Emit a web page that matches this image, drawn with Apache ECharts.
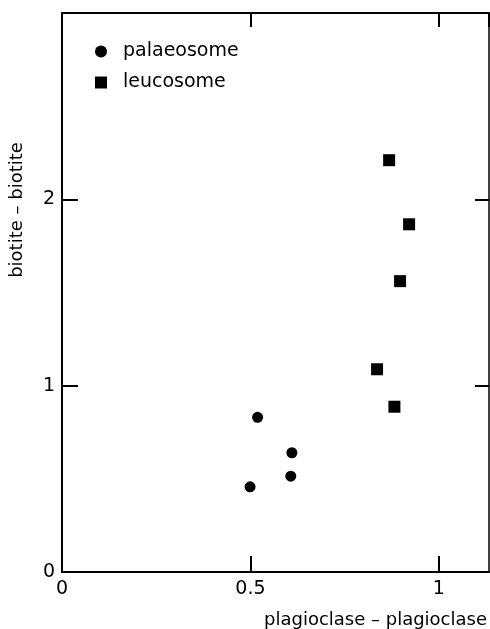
<!DOCTYPE html>
<html>
<head>
<meta charset="utf-8">
<script src="https://cdn.jsdelivr.net/npm/echarts@6/dist/echarts.min.js"></script>
<style>
  html, body { margin: 0; padding: 0; background: #fff; }
  #chart { width: 490px; height: 629px; }
</style>
</head>
<body>
<div id="chart"></div>
<script>
// palaeosome points [plagioclase, biotite]
var palaeosome = [[0.519, 0.83], [0.61, 0.64], [0.607, 0.514], [0.499, 0.457]];
// leucosome points
var leucosome = [[0.868, 2.21], [0.921, 1.866], [0.897, 1.561], [0.836, 1.088], [0.882, 0.887]];
var xTicks = [0, 0.5, 1];
var yTicks = [0, 1, 2];
var xName = "plagioclase \u2013 plagioclase";
var yName = "biotite \u2013 biotite";

var font = "DejaVu Sans";
var chart = echarts.init(document.getElementById("chart"));

function tick(len) {
    return { show: true, inside: true, length: len, lineStyle: { color: "#000", width: 2 } };
}
function line(w) {
    return { show: true, onZero: false, lineStyle: { color: "#000", width: w } };
}

chart.setOption({
    animation: false,
    grid: { left: 62, right: 1, top: 13, bottom: 57, containLabel: false },
    legend: {
        orient: "vertical",
        left: 90,
        top: 37,
        itemWidth: 12,
        itemHeight: 12,
        itemGap: 12,
        textStyle: { fontFamily: font, fontSize: 19, color: "#000", padding: [0, 0, 0, 11] },
        data: [
            { name: "palaeosome", icon: "circle" },
            { name: "leucosome", icon: "rect" }
        ]
    },
    xAxis: [
        {
            type: "value", min: 0, max: 1.133, interval: 0.5, position: "bottom",
            axisLine: line(2),
            axisTick: tick(16),
            splitLine: { show: false },
            axisLabel: {
                color: "#000", fontFamily: font, fontSize: 19, margin: 8, showMaxLabel: false,
                formatter: function (v) { return xTicks.indexOf(v) >= 0 ? String(v) : ""; }
            }
        },
        {
            type: "value", min: 0, max: 1.133, interval: 0.5, position: "top",
            axisLine: line(2),
            axisTick: tick(14),
            splitLine: { show: false },
            axisLabel: { show: false }
        }
    ],
    yAxis: [
        {
            type: "value", min: 0, max: 3, interval: 1, position: "left",
            axisLine: line(2),
            axisTick: tick(16),
            splitLine: { show: false },
            axisLabel: {
                color: "#000", fontFamily: font, fontSize: 19, margin: 7, showMaxLabel: false,
                formatter: function (v) { return yTicks.indexOf(v) >= 0 ? String(v) : ""; }
            }
        },
        {
            type: "value", min: 0, max: 3, interval: 1, position: "right",
            axisLine: line(1.5),
            axisTick: tick(14),
            splitLine: { show: false },
            axisLabel: { show: false }
        }
    ],
    graphic: [
        {
            type: "text", x: 487, y: 620,
            style: { text: xName, fill: "#000", font: "18px " + font, textAlign: "right", textVerticalAlign: "middle" }
        },
        {
            type: "text", x: 17, y: 210, rotation: Math.PI / 2,
            style: { text: yName, fill: "#000", font: "18px " + font, textAlign: "center", textVerticalAlign: "middle" }
        }
    ],
    series: [
        {
            name: "palaeosome", type: "scatter", data: palaeosome,
            symbol: "circle", symbolSize: 11, xAxisIndex: 0, yAxisIndex: 0,
            itemStyle: { color: "#000", opacity: 1 }
        },
        {
            name: "leucosome", type: "scatter", data: leucosome,
            symbol: "rect", symbolSize: 12, xAxisIndex: 0, yAxisIndex: 0,
            itemStyle: { color: "#000", opacity: 1 }
        }
    ]
});
</script>
</body>
</html>
